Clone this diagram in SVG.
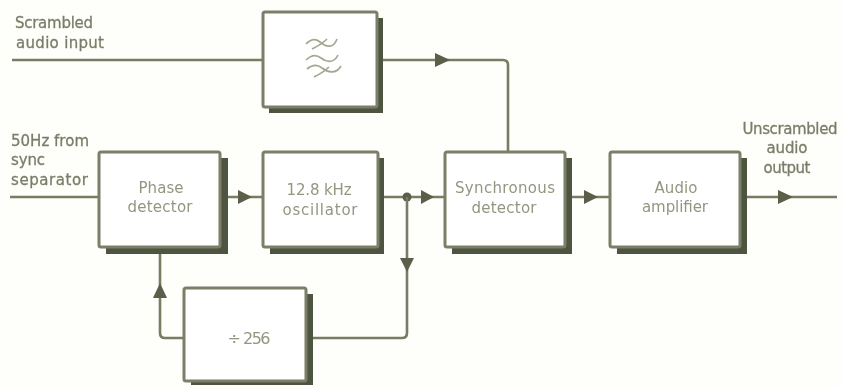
<svg xmlns="http://www.w3.org/2000/svg" width="842" height="387" viewBox="0 0 842 387">
<defs><filter id="scan" filterUnits="userSpaceOnUse" x="0" y="0" width="842" height="387"><feGaussianBlur stdDeviation="0.45"/></filter></defs>
<style>
.b{fill:#fff;stroke:#7b7f68;stroke-width:3}
.s{fill:#4e5440}
.w{fill:none;stroke:#777b64;stroke-width:2.6;stroke-linejoin:round}
.a{fill:#5a5f4a}
.f{fill:none;stroke:#a5a890;stroke-width:1.7}
text{font-family:"DejaVu Sans",sans-serif;font-size:15px;fill:#93967f;text-anchor:middle}
.o{fill:#7a7d68;stroke:#7a7d68;stroke-width:.3;text-anchor:start}
.c{fill:#7a7d68;stroke:#7a7d68;stroke-width:.3}
</style>
<rect width="842" height="387" fill="#fefefa"/>
<g filter="url(#scan)">
<g id="connectors">
<path class="w" d="M12 60H263"/>
<path class="w" d="M383 60H503Q508 60 508 65V152"/>
<path class="a" d="M435 53L450 60L435 67Z"/>
<path class="w" d="M10 197H99"/>
<path class="w" d="M228 197H263"/>
<path class="a" d="M238 190L252 197L238 204Z"/>
<path class="w" d="M384 197H445"/>
<path class="a" d="M421 190L434 197L421 204Z"/>
<circle cx="407" cy="197" r="4.5" class="a"/>
<path class="w" d="M407 197V333Q407 338 402 338H313"/>
<path class="a" d="M400 258L414 258L407 272Z"/>
<path class="w" d="M184 338H165Q160 338 160 333V254"/>
<path class="a" d="M153 298L160 283L167 298Z"/>
<path class="w" d="M572 197H610"/>
<path class="a" d="M584 190L598 197L584 204Z"/>
<path class="w" d="M747 197H837"/>
<path class="a" d="M778 190L793 197L778 204Z"/>
</g>
<g id="filter">
<rect class="s" x="269" y="18" width="114" height="95"/>
<rect class="b" x="263" y="12" width="114" height="95" rx="2"/>
<path class="f" d="M306 44c5-5 9-6 14-2s13 8 17-3M312 49c6-3 11-6 15-10M306 60c5-5 10-6 15-2s13 6 17-3M307 69c5-4 10-5 15-1s14 7 19-2M314 77c6-3 11-6 15-10"/>
</g>
<g id="phase-detector">
<rect class="s" x="106" y="158" width="122" height="96"/>
<rect class="b" x="99" y="152" width="121" height="95" rx="2"/>
<text x="161" y="193" textLength="45">Phase</text><text x="160" y="212" textLength="65">detector</text>
</g>
<g id="oscillator">
<rect class="s" x="270" y="158" width="114" height="96"/>
<rect class="b" x="263" y="152" width="115" height="95" rx="2"/>
<text x="319" y="195" textLength="65">12.8 kHz</text><text x="320" y="215" textLength="75">oscillator</text>
</g>
<g id="synchronous-detector">
<rect class="s" x="452" y="158" width="120" height="96"/>
<rect class="b" x="445" y="152" width="120" height="95" rx="2"/>
<text x="505" y="193" textLength="100">Synchronous</text><text x="504" y="213" textLength="65">detector</text>
</g>
<g id="audio-amplifier">
<rect class="s" x="617" y="158" width="130" height="96"/>
<rect class="b" x="610" y="152" width="130" height="95" rx="2"/>
<text x="676" y="193" textLength="43">Audio</text><text x="675" y="212" textLength="66">amplifier</text>
</g>
<g id="divider">
<rect class="s" x="191" y="294" width="122" height="91"/>
<rect class="b" x="184" y="288" width="122" height="93" rx="2"/>
<text x="249" y="344" textLength="43" style="font-size:16px">÷ 256</text>
</g>
<g id="labels">
<text class="o" x="15" y="28" textLength="78">Scrambled</text>
<text class="o" x="16" y="48" textLength="88">audio input</text>
<text class="o" x="11" y="146" textLength="78">50Hz from</text>
<text class="o" x="11" y="165" textLength="34">sync</text>
<text class="o" x="11" y="185" textLength="77">separator</text>
<text class="c" x="790" y="134" textLength="95">Unscrambled</text>
<text class="c" x="787" y="153" textLength="41">audio</text>
<text class="c" x="787" y="173" textLength="47">output</text>
</g>
</g>
</svg>
